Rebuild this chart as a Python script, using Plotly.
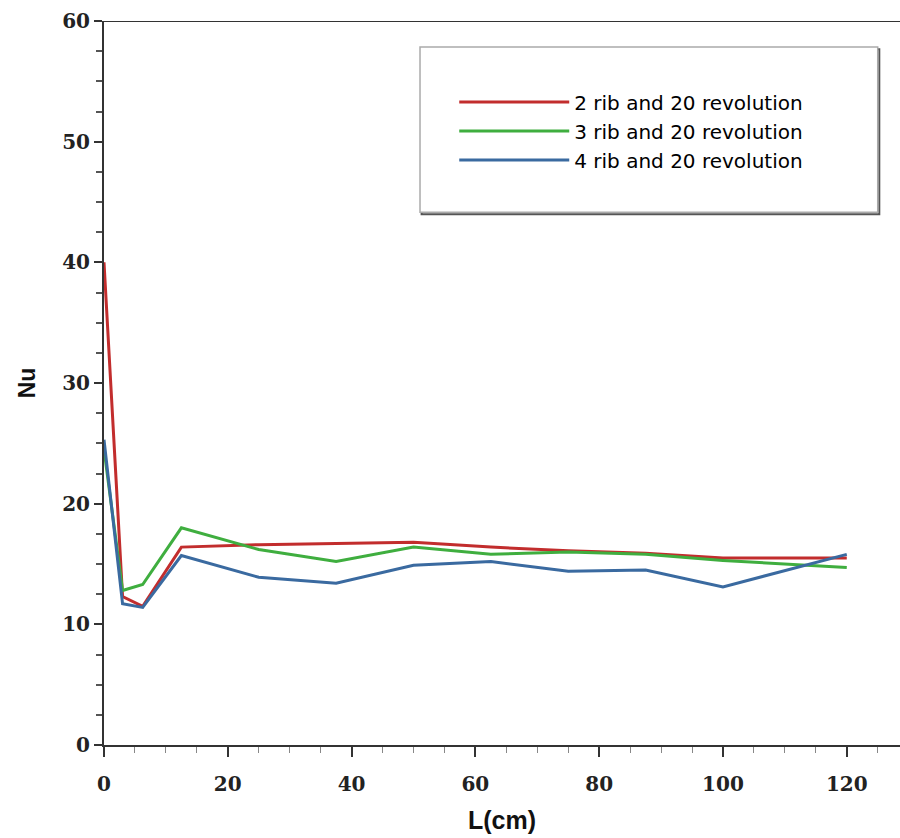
import plotly.graph_objects as go

# Data
L_cm = [0, 3, 6.25, 12.5, 25, 37.5, 50, 62.5, 75, 87.5, 100, 120]
nu_2rib = [40.0, 12.3, 11.5, 16.4, 16.6, 16.7, 16.8, 16.4, 16.1, 15.9, 15.5, 15.5]
nu_3rib = [24.5, 12.8, 13.3, 18.0, 16.2, 15.2, 16.4, 15.8, 16.0, 15.8, 15.3, 14.7]
nu_4rib = [25.3, 11.7, 11.4, 15.7, 13.9, 13.4, 14.9, 15.2, 14.4, 14.5, 13.1, 15.8]

series_names = ["2 rib and 20 revolution", "3 rib and 20 revolution", "4 rib and 20 revolution"]
series_values = [nu_2rib, nu_3rib, nu_4rib]
colors = ["#c22d2d", "#3fae3f", "#3a6aa0"]

x_ticks = [0, 20, 40, 60, 80, 100, 120]
y_ticks = [0, 10, 20, 30, 40, 50, 60]

fig = go.Figure()
for name, vals, col in zip(series_names, series_values, colors):
    fig.add_trace(go.Scatter(x=L_cm, y=vals, mode="lines", name=name,
                             line=dict(color=col, width=3)))

tickfont = dict(family="DejaVu Serif", size=20, color="#222", weight="bold")

fig.update_layout(
    width=900, height=838,
    margin=dict(l=104, r=0, t=21, b=93),
    paper_bgcolor="white", plot_bgcolor="white",
    showlegend=True,
    legend=dict(x=0.44, y=0.915, xanchor="left", yanchor="top",
                bgcolor="rgba(0,0,0,0)", borderwidth=0,
                font=dict(family="DejaVu Sans", size=20, color="#000"),
                itemwidth=110, tracegroupgap=0),
    xaxis=dict(range=[0, 128.6], tickvals=x_ticks, ticktext=[str(v) for v in x_ticks],
               showgrid=False, zeroline=False, showline=True, linecolor="#333", linewidth=2,
               ticks="outside", ticklen=10, tickwidth=2, tickcolor="#333",
               tickfont=tickfont, ticklabelstandoff=10,
               minor=dict(dtick=5, ticks="outside", ticklen=6, tickwidth=1, tickcolor="#888"),
               title=dict(text="<b>L(cm)</b>", font=dict(family="Liberation Sans", size=25, color="#111"),
                          standoff=16)),
    yaxis=dict(range=[0, 60], tickvals=y_ticks, ticktext=[str(v) for v in y_ticks],
               showgrid=False, zeroline=False, showline=True, linecolor="#333", linewidth=2,
               ticks="outside", ticklen=8, tickwidth=2, tickcolor="#333",
               tickfont=tickfont,
               minor=dict(dtick=2.5, ticks="outside", ticklen=6, tickwidth=1.5, tickcolor="#555"),
               title=dict(text="<b>Nu</b>", font=dict(family="Liberation Sans", size=23, color="#111"),
                          standoff=20)),
    shapes=[
        dict(type="line", xref="paper", yref="y", x0=0, x1=1, y0=60, y1=60,
             line=dict(color="#333", width=2)),
        dict(type="rect", xref="paper", yref="paper", x0=0.399, x1=0.974, y0=0.733, y1=0.961,
             line=dict(color="#555", width=2), fillcolor="rgba(0,0,0,0)"),
        dict(type="rect", xref="paper", yref="paper", x0=0.397, x1=0.972, y0=0.736, y1=0.964,
             line=dict(color="#aaa", width=1.5), fillcolor="white"),
    ],
)

fig.write_html("out.html")
